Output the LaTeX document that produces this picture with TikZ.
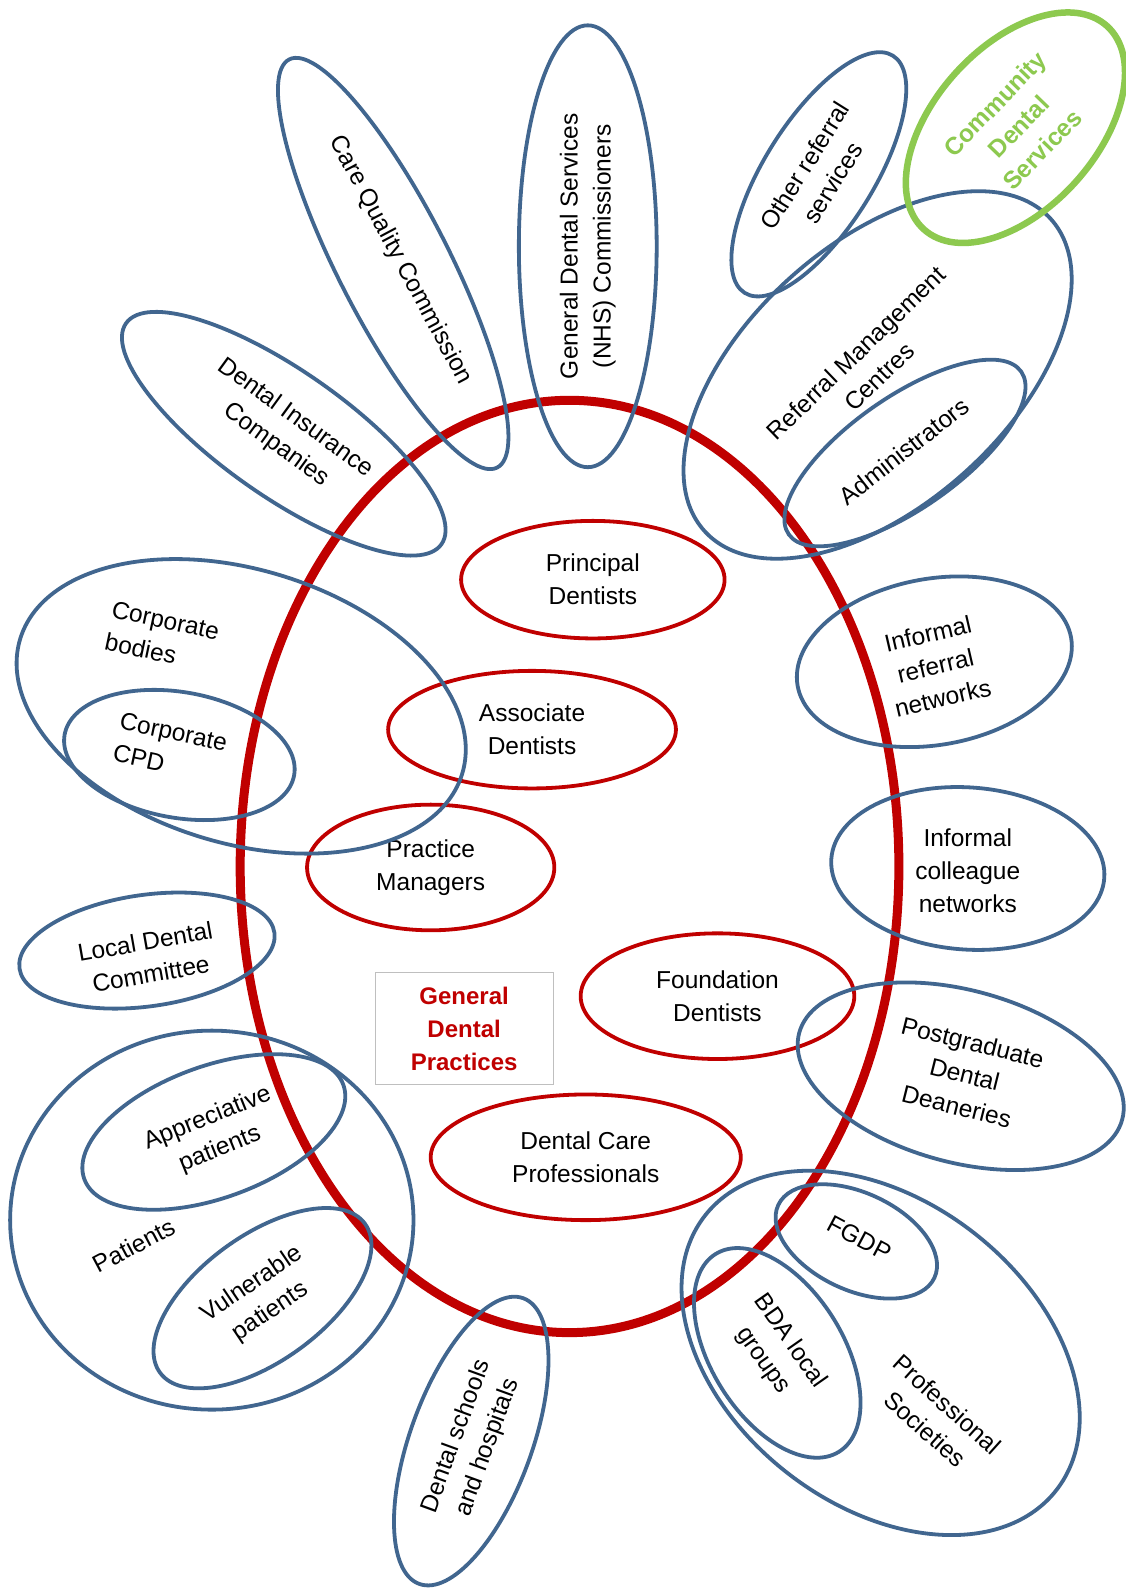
\documentclass[tikz,border=0pt]{standalone}
\usepackage{fontspec}
\setmainfont{Liberation Sans}
\usetikzlibrary{shapes.geometric}
\definecolor{gblue}{HTML}{41668F}
\definecolor{gred}{HTML}{C00000}
\definecolor{ggreen}{HTML}{8DC94F}
\begin{document}
\begin{tikzpicture}[x=1.0135pt, y=-1.0135pt,
  font=\fontsize{24.5}{33}\selectfont,
  E/.style n args={3}{shape=ellipse, inner sep=0pt, align=center,
     minimum width={2*#1*1.0135pt}, minimum height={2*#2*1.0135pt}, rotate=#3},
  bl/.style={draw=gblue, line width=3.8pt},
  rd/.style={draw=gred, line width=3.8pt},
  T/.style={align=center, inner sep=0pt}]
\useasboundingbox (0,0) rectangle (1111,1568);
\fill[white] (0,0) rectangle (1111,1568);

% big red ellipse
\node[E={325}{460}{0}, draw=gred, line width=9pt] (gdp) at (562,855) {};

% inner red ellipses
\node[E={130}{58}{0}, rd] (pd) at (585,572) {Principal\\Dentists};
\node[E={142}{58}{0}, rd] (ad) at (525,720) {Associate\\Dentists};
\node[E={122}{62}{0}, rd] (pm) at (425,856) {Practice\\Managers};
\node[E={135}{62}{0}, rd] (fd) at (708,983) {Foundation\\Dentists};
\node[E={153}{62}{0}, rd] (dcp) at (578,1142) {Dental Care\\Professionals};

% central box
\node[draw=black!25, line width=0.8pt, minimum width={176*1.0135pt},
  minimum height={110*1.0135pt}, text=gred, align=center,
  font=\fontsize{24}{33}\selectfont\bfseries] (box) at (458,1015) {General\\Dental\\Practices};

% blue ellipses
\node[E={226}{55}{-63}, bl] (cqc) at (388,260) {};
\node[T, rotate=-62] (cqct) at (395,257) {Care Quality Commission};
\node[E={218}{68}{90}, bl] (gds) at (580,243) {General Dental Services\\(NHS) Commissioners};
\node[E={138}{54}{58}, bl] (ors) at (808,172) {Other referral\\services};
\node[E={230}{129}{42}, bl] (rmc) at (866,370) {};
\node[T, rotate=44] (rmct) at (856,360) {Referral Management\\Centres};
\node[E={140}{55}{35}, bl] (adm) at (893,447) {};
\node[T, rotate=38] (admt) at (892,445) {Administrators};
\node[E={135}{80}{48}, draw=ggreen, line width=6.5pt] (cds) at (1002,126) {};
\node[T, rotate=46, text=ggreen, font=\fontsize{24.5}{33}\selectfont\bfseries] (cdst) at (1005,125) {Community\\Dental\\Services};

\node[E={190}{62}{-35}, bl] (dic) at (280,428) {};
\node[T, rotate=-36] (dict) at (282,426) {Dental Insurance\\Companies};

\node[E={228}{135}{-17}, bl] (cb) at (238,697) {};
\node[T, align=left, rotate=-12] (cbt) at (160,628) {Corporate\\bodies};
\node[E={115}{62}{-10}, bl] (ccpd) at (177,745) {};
\node[T, align=left, rotate=-12] (ccpdt) at (168,738) {Corporate\\CPD};

\node[E={127}{55}{8}, bl] (ldc) at (145,938) {};
\node[T, rotate=10] (ldct) at (146,945) {Local Dental\\Committee};

\node[E={199}{187}{0}, bl] (pat) at (209,1204) {};
\node[T, rotate=28] (patt) at (132,1229) {Patients};
\node[E={136}{65}{20}, bl] (app) at (211,1117) {};
\node[T, rotate=22] (appt) at (211,1119) {Appreciative\\patients};
\node[E={125}{62}{36}, bl] (vul) at (259,1281) {};
\node[T, rotate=34] (vult) at (258,1281) {Vulnerable\\patients};

\node[E={150}{60}{70}, bl] (dsh) at (465,1422) {};
\node[T, rotate=70] (dsht) at (466,1423) {Dental schools\\and hospitals};

\node[E={137}{82}{10}, bl] (irn) at (922,653) {};
\node[T, rotate=13] (irnt) at (923,657) {Informal\\referral\\networks};
\node[E={135}{80}{-4}, bl] (icn) at (955,857) {};
\node[T] (icnt) at (955,859) {Informal\\colleague\\networks};
\node[E={165}{85}{-15}, bl] (pdd) at (948,1062) {};
\node[T, rotate=-14] (pddt) at (952,1060) {Postgraduate\\Dental\\Deaneries};

\node[E={220}{150}{-38}, bl] (ps) at (869,1335) {};
\node[T, rotate=-42] (pst) at (924,1398) {Professional\\Societies};
\node[E={85}{48}{-25}, bl] (fgdp) at (845,1225) {};
\node[T, rotate=-28] (fgdpt) at (848,1222) {FGDP};
\node[E={115}{65}{-58}, bl] (bda) at (767,1335) {};
\node[T, rotate=-55] (bdat) at (766,1333) {BDA local\\groups};
\end{tikzpicture}
\end{document}
